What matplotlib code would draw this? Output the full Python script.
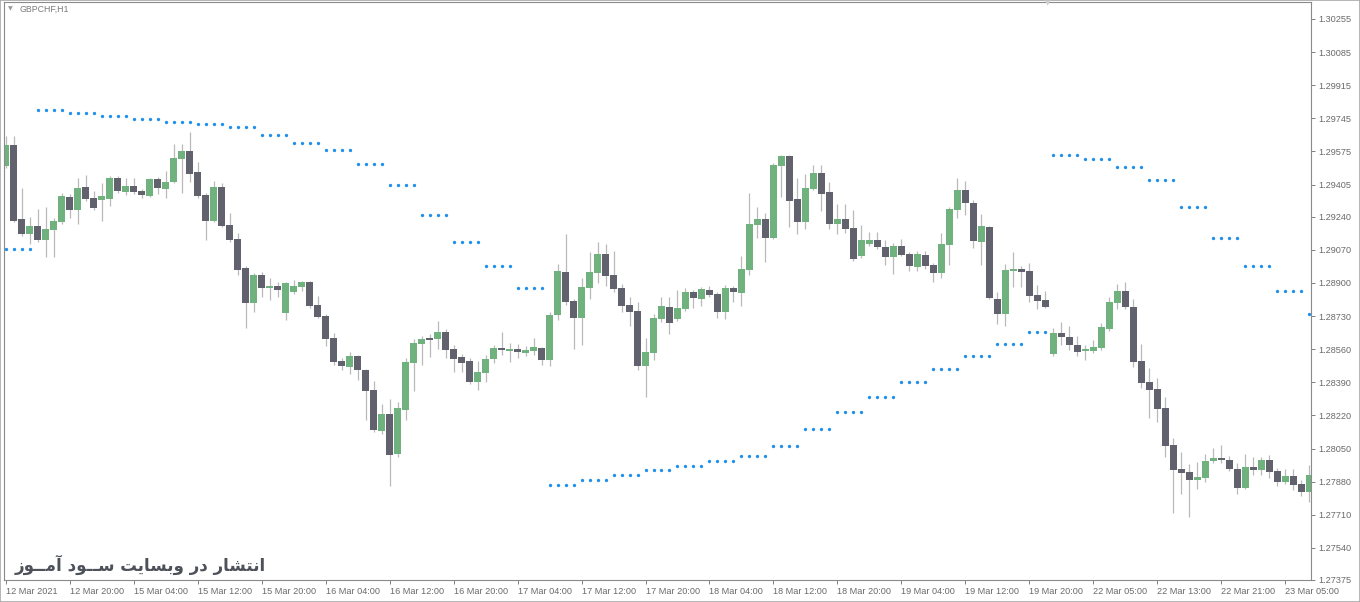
import matplotlib
matplotlib.use("Agg")
import matplotlib.pyplot as plt
import matplotlib.patches as patches
import numpy as np

# ---- data (GBPCHF H1, 12-23 Mar 2021) ----
symbol = "GBPCHF,H1"
watermark = "انتشار در وبسایت ســود آمــوز"

time_labels = ["12 Mar 2021", "12 Mar 20:00", "15 Mar 04:00", "15 Mar 12:00", "15 Mar 20:00",
               "16 Mar 04:00", "16 Mar 12:00", "16 Mar 20:00", "17 Mar 04:00", "17 Mar 12:00",
               "17 Mar 20:00", "18 Mar 04:00", "18 Mar 12:00", "18 Mar 20:00", "19 Mar 04:00",
               "19 Mar 12:00", "19 Mar 20:00", "22 Mar 05:00", "22 Mar 13:00", "22 Mar 21:00",
               "23 Mar 05:00"]
label_every = 8

price_labels = ["1.30255", "1.30085", "1.29915", "1.29745", "1.29575", "1.29405", "1.29240",
                "1.29070", "1.28900", "1.28730", "1.28560", "1.28390", "1.28220", "1.28050",
                "1.27880", "1.27710", "1.27540", "1.27375"]

opens = [
    1.29501, 1.29608, 1.29229, 1.29152, 1.29193, 1.29121, 1.29173, 1.29214, 1.29342, 1.29275,
    1.29393, 1.29337, 1.29327, 1.29332, 1.29439, 1.29368, 1.29398, 1.29373, 1.29347, 1.29434,
    1.29383, 1.29419, 1.29537, 1.29578, 1.29470, 1.29352, 1.29219, 1.29393, 1.29198, 1.29127,
    1.28978, 1.28799, 1.28941, 1.28875, 1.28885, 1.28747, 1.28855, 1.28880, 1.28906, 1.28788,
    1.28731, 1.28619, 1.28501, 1.28470, 1.28526, 1.28454, 1.28352, 1.28142, 1.28228, 1.28023,
    1.28249, 1.28491, 1.28587, 1.28619, 1.28614, 1.28650, 1.28562, 1.28521, 1.28501, 1.28393,
    1.28439, 1.28511, 1.28567, 1.28552, 1.28562, 1.28542, 1.28552, 1.28567, 1.28506, 1.28736,
    1.28957, 1.28809, 1.28721, 1.28875, 1.28952, 1.29049, 1.28941, 1.28875, 1.28788, 1.28757,
    1.28475, 1.28542, 1.28716, 1.28778, 1.28716, 1.28768, 1.28855, 1.28819, 1.28865, 1.28844,
    1.28752, 1.28875, 1.28850, 1.28967, 1.29198, 1.29229, 1.29132, 1.29501, 1.29552, 1.29332,
    1.29214, 1.29383, 1.29465, 1.29368, 1.29203, 1.29229, 1.29183, 1.29039, 1.29100, 1.29121,
    1.29085, 1.29034, 1.29090, 1.29049, 1.28983, 1.29044, 1.28993, 1.28952, 1.29095, 1.29275,
    1.29378, 1.29312, 1.29111, 1.29188, 1.28819, 1.28741, 1.28962, 1.28973, 1.28962, 1.28839,
    1.28814, 1.28536, 1.28645, 1.28624, 1.28582, 1.28552, 1.28552, 1.28567, 1.28665, 1.28799,
    1.28860, 1.28778, 1.28501, 1.28393, 1.28357, 1.28260, 1.28069, 1.27947, 1.27931, 1.27890,
    1.27900, 1.27988, 1.28003, 1.27993, 1.27947, 1.27849, 1.27957, 1.27941, 1.27993, 1.27936,
    1.27880, 1.27910, 1.27869, 1.27829]

highs = [
    1.29655, 1.29655, 1.29388, 1.29239, 1.29281, 1.29291, 1.29234, 1.29363, 1.29357, 1.29439,
    1.29454, 1.29373, 1.29414, 1.29449, 1.29449, 1.29439, 1.29439, 1.29383, 1.29439, 1.29444,
    1.29475, 1.29613, 1.29613, 1.29676, 1.29522, 1.29363, 1.29424, 1.29414, 1.29260, 1.29158,
    1.28988, 1.28952, 1.28957, 1.28926, 1.28906, 1.28906, 1.28916, 1.28911, 1.28911, 1.28834,
    1.28741, 1.28645, 1.28516, 1.28547, 1.28531, 1.28460, 1.28398, 1.28280, 1.28306, 1.28291,
    1.28516, 1.28614, 1.28629, 1.28639, 1.28706, 1.28665, 1.28582, 1.28536, 1.28516, 1.28501,
    1.28531, 1.28582, 1.28650, 1.28593, 1.28587, 1.28577, 1.28619, 1.28572, 1.28752, 1.28998,
    1.29152, 1.28819, 1.28926, 1.29060, 1.29111, 1.29100, 1.29065, 1.28895, 1.28829, 1.28804,
    1.28619, 1.28741, 1.28829, 1.28829, 1.28865, 1.28875, 1.28865, 1.28880, 1.28885, 1.28855,
    1.28890, 1.28885, 1.29039, 1.29363, 1.29291, 1.29260, 1.29517, 1.29557, 1.29557, 1.29439,
    1.29459, 1.29506, 1.29506, 1.29419, 1.29306, 1.29306, 1.29275, 1.29198, 1.29163, 1.29163,
    1.29121, 1.29106, 1.29127, 1.29060, 1.29065, 1.29065, 1.29004, 1.29158, 1.29291, 1.29439,
    1.29424, 1.29327, 1.29254, 1.29193, 1.28855, 1.28998, 1.29060, 1.28988, 1.29004, 1.28890,
    1.28860, 1.28670, 1.28701, 1.28680, 1.28629, 1.28582, 1.28608, 1.28696, 1.28829, 1.28895,
    1.28906, 1.28819, 1.28587, 1.28465, 1.28413, 1.28316, 1.28106, 1.28034, 1.27972, 1.27983,
    1.28023, 1.28054, 1.28069, 1.28013, 1.27978, 1.28023, 1.28008, 1.28008, 1.28018, 1.27952,
    1.27947, 1.27947, 1.27890, 1.27967]

lows = [
    1.29491, 1.29214, 1.29142, 1.29100, 1.29111, 1.29034, 1.29034, 1.29203, 1.29234, 1.29203,
    1.29322, 1.29275, 1.29219, 1.29296, 1.29363, 1.29352, 1.29357, 1.29337, 1.29342, 1.29357,
    1.29337, 1.29414, 1.29363, 1.29419, 1.29337, 1.29121, 1.29214, 1.29188, 1.29111, 1.28941,
    1.28670, 1.28752, 1.28829, 1.28814, 1.28829, 1.28711, 1.28844, 1.28860, 1.28773, 1.28721,
    1.28577, 1.28480, 1.28454, 1.28433, 1.28403, 1.28198, 1.28137, 1.28126, 1.27859, 1.28008,
    1.28198, 1.28347, 1.28480, 1.28521, 1.28562, 1.28516, 1.28444, 1.28444, 1.28382, 1.28352,
    1.28393, 1.28491, 1.28531, 1.28496, 1.28516, 1.28526, 1.28531, 1.28480, 1.28475, 1.28711,
    1.28788, 1.28562, 1.28582, 1.28819, 1.28901, 1.28885, 1.28855, 1.28752, 1.28680, 1.28454,
    1.28316, 1.28506, 1.28701, 1.28639, 1.28706, 1.28757, 1.28773, 1.28783, 1.28829, 1.28721,
    1.28716, 1.28804, 1.28783, 1.28941, 1.29132, 1.29009, 1.29127, 1.29342, 1.29188, 1.29152,
    1.29178, 1.29378, 1.29270, 1.29178, 1.29152, 1.29158, 1.29014, 1.29029, 1.29090, 1.29075,
    1.28993, 1.28946, 1.29039, 1.28962, 1.28962, 1.28973, 1.28906, 1.28926, 1.28993, 1.29234,
    1.29249, 1.29080, 1.28993, 1.28819, 1.28690, 1.28680, 1.28880, 1.28880, 1.28804, 1.28768,
    1.28773, 1.28526, 1.28582, 1.28557, 1.28526, 1.28506, 1.28542, 1.28557, 1.28655, 1.28768,
    1.28768, 1.28470, 1.28362, 1.28208, 1.28188, 1.28008, 1.27721, 1.27818, 1.27700, 1.27844,
    1.27880, 1.27978, 1.27978, 1.27936, 1.27818, 1.27844, 1.27915, 1.27915, 1.27900, 1.27859,
    1.27869, 1.27839, 1.27808, 1.27773]

closes = [
    1.29608, 1.29219, 1.29152, 1.29193, 1.29121, 1.29178, 1.29219, 1.29347, 1.29275, 1.29388,
    1.29332, 1.29286, 1.29347, 1.29439, 1.29373, 1.29398, 1.29368, 1.29352, 1.29434, 1.29388,
    1.29419, 1.29542, 1.29578, 1.29459, 1.29347, 1.29219, 1.29393, 1.29193, 1.29121, 1.28967,
    1.28799, 1.28941, 1.28875, 1.28885, 1.28865, 1.28901, 1.28885, 1.28906, 1.28783, 1.28726,
    1.28614, 1.28496, 1.28475, 1.28526, 1.28454, 1.28347, 1.28147, 1.28228, 1.28018, 1.28260,
    1.28496, 1.28593, 1.28614, 1.28608, 1.28650, 1.28557, 1.28511, 1.28491, 1.28393, 1.28444,
    1.28511, 1.28567, 1.28557, 1.28562, 1.28547, 1.28557, 1.28572, 1.28506, 1.28736, 1.28962,
    1.28804, 1.28721, 1.28880, 1.28957, 1.29049, 1.28936, 1.28870, 1.28783, 1.28752, 1.28475,
    1.28547, 1.28721, 1.28783, 1.28696, 1.28773, 1.28855, 1.28824, 1.28870, 1.28839, 1.28752,
    1.28875, 1.28855, 1.28973, 1.29203, 1.29229, 1.29132, 1.29506, 1.29552, 1.29322, 1.29214,
    1.29388, 1.29465, 1.29357, 1.29203, 1.29229, 1.29178, 1.29024, 1.29121, 1.29121, 1.29085,
    1.29034, 1.29090, 1.29044, 1.28988, 1.29049, 1.28988, 1.28952, 1.29100, 1.29281, 1.29378,
    1.29312, 1.29116, 1.29193, 1.28824, 1.28741, 1.28967, 1.28973, 1.28957, 1.28834, 1.28809,
    1.28778, 1.28645, 1.28624, 1.28582, 1.28547, 1.28562, 1.28572, 1.28675, 1.28804, 1.28860,
    1.28778, 1.28496, 1.28388, 1.28352, 1.28255, 1.28064, 1.27941, 1.27926, 1.27890, 1.27905,
    1.27988, 1.28003, 1.27993, 1.27947, 1.27849, 1.27957, 1.27941, 1.27993, 1.27931, 1.27880,
    1.27910, 1.27864, 1.27829, 1.27915]

# stepped indicator: one level per block of bars
dot_levels = [1.29074, 1.29788, 1.29771, 1.29756, 1.29740, 1.29725, 1.29715, 1.29700, 1.29659,
              1.29617, 1.29581, 1.29510, 1.29402, 1.29248, 1.29109, 1.28987, 1.28873, 1.27863,
              1.27888, 1.27914, 1.27939, 1.27961, 1.27986, 1.28012, 1.28063, 1.28150, 1.28237,
              1.28315, 1.28391, 1.28458, 1.28525, 1.28586, 1.28648, 1.29556, 1.29535, 1.29496,
              1.29427, 1.29290, 1.29130, 1.28987, 1.28858, 1.28738]
dot_steps = [4] * 32 + [3] + [4] * 8 + [1]

# ---- simple Persian shaping (matplotlib has no Arabic joining) ----
FORMS = {
    'ا': ('\uFE8D', '\uFE8E', None, None), 'آ': ('\uFE81', '\uFE82', None, None),
    'ر': ('\uFEAD', '\uFEAE', None, None), 'ز': ('\uFEAF', '\uFEB0', None, None),
    'د': ('\uFEA9', '\uFEAA', None, None), 'و': ('\uFEED', '\uFEEE', None, None),
    'ن': ('\uFEE5', '\uFEE6', '\uFEE7', '\uFEE8'), 'ت': ('\uFE95', '\uFE96', '\uFE97', '\uFE98'),
    'ش': ('\uFEB5', '\uFEB6', '\uFEB7', '\uFEB8'), 'ب': ('\uFE8F', '\uFE90', '\uFE91', '\uFE92'),
    'س': ('\uFEB1', '\uFEB2', '\uFEB3', '\uFEB4'), 'ی': ('\uFBFC', '\uFBFD', '\uFBFE', '\uFBFF'),
    'م': ('\uFEE1', '\uFEE2', '\uFEE3', '\uFEE4'),
}
TATWEEL = 'ـ'


def joins_forward(c):
    return c == TATWEEL or (c in FORMS and FORMS[c][2] is not None)


def joins_back(c):
    return c == TATWEEL or c in FORMS


def shape_persian(text):
    out = []
    for k, c in enumerate(text):
        if c not in FORMS:
            out.append(c)
            continue
        prev = text[k - 1] if k > 0 else ' '
        nxt = text[k + 1] if k + 1 < len(text) else ' '
        p = joins_forward(prev)
        n = joins_forward(c) and joins_back(nxt)
        iso, fin, ini, med = FORMS[c]
        out.append(med if (p and n) else fin if p else ini if n else iso)
    return ''.join(out)[::-1]


# ---- figure ----
W, H = 1360, 602
fig = plt.figure(figsize=(W / 100, H / 100), dpi=100)
fig.patch.set_facecolor('white')
ax = fig.add_axes([4 / W, 22 / H, 1307 / W, 578 / H])

x = np.arange(len(opens))
o = np.array(opens)
c = np.array(closes)
up = c >= o
col_up = '#70b27d'
col_dn = '#62626e'
colors = np.where(up, col_up, col_dn)

ax.vlines(x, lows, highs, color='#b9b9b9', linewidth=0.9, zorder=1)
body_lo = np.minimum(o, c)
body_h = np.maximum(np.abs(c - o), 0.00004)
ax.bar(x, body_h, bottom=body_lo, width=0.8, color=colors, linewidth=0, zorder=2)

dots = np.repeat(dot_levels, dot_steps)
ax.plot(x, dots, linestyle='none', marker='o', markersize=2.4, markeredgewidth=0,
        color='#1f8fe8', zorder=3)

ax.set_xlim(-0.19, 163.19)
ax.set_ylim(1.27377, 1.30342)

tick_font = dict(family='Liberation Sans', size=6.6)
ax.set_xticks(x[::label_every])
ax.set_xticklabels(time_labels, ha='left', color='#6a6a6a', **tick_font)
ax.yaxis.tick_right()
ax.set_yticks([float(s) for s in price_labels])
ax.set_yticklabels(price_labels, color='#6a6a6a', **tick_font)
ax.tick_params(axis='x', direction='out', length=3, width=0.7, color='#808080', pad=2)
ax.tick_params(axis='y', direction='out', length=3, width=0.7, color='#808080', pad=2)

for s in ax.spines.values():
    s.set_color('#8a8a8a')
    s.set_linewidth(0.8)

# symbol caption, shift marker and watermark
fig.text(10 / W, 1 - 9 / H, '▼', fontsize=4.5, color='#9a9a9a', ha='center', va='center')
fig.text(20 / W, 1 - 9 / H, symbol, fontsize=6.3, family='Liberation Sans',
         color='#7a7a7a', ha='left', va='center')
fig.text(1048 / W, 1 - 3.5 / H, '▼', fontsize=5, color='#d0d0d0', ha='center', va='center')
fig.text(15 / W, 1 - 565 / H, shape_persian(watermark), fontsize=12, fontweight='bold',
         family=['DejaVu Sans'], color='#4d5159', ha='left', va='center')

fig.add_artist(patches.Rectangle((0, 0), 1, 1, transform=fig.transFigure, fill=False,
                                 edgecolor='#a8a8a8', linewidth=1.2))

fig.savefig('out.png', dpi=100, facecolor='white')
